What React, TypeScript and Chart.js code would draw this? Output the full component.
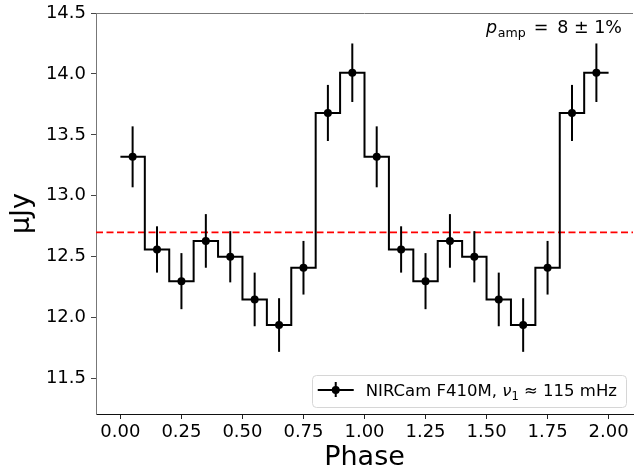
import React, { useEffect, useRef } from "react";
import { Chart, registerables } from "chart.js";

Chart.register(...registerables);

// ---- data ----
const phaseBins = [0.05, 0.15, 0.25, 0.35, 0.45, 0.55, 0.65, 0.75, 0.85, 0.95];
const fluxValues = [13.32, 12.56, 12.3, 12.63, 12.5, 12.15, 11.94, 12.41, 13.68, 14.01];
const fluxErrors = [0.25, 0.19, 0.23, 0.22, 0.21, 0.22, 0.22, 0.22, 0.23, 0.24];
const cycleOffsets = [0, 1];
const meanFlux = 12.7;
const xTicks = [0, 0.25, 0.5, 0.75, 1.0, 1.25, 1.5, 1.75, 2.0];
const yTicks = [11.5, 12.0, 12.5, 13.0, 13.5, 14.0, 14.5];
const xLimits = [-0.1, 2.1];
const yLimits = [11.21, 14.5];
const xTitle = "Phase";
const yTitle = "μJy";
const legendParts = ["NIRCam F410M, ", "ν", "1", " ≈ 115 mHz"];
const annotationParts = ["p", "amp", "=", "8 ± 1%"];

const FONT = "'DejaVu Sans', sans-serif";

const binWidth = phaseBins[1] - phaseBins[0];
const points = cycleOffsets.flatMap((c) =>
  phaseBins.map((p, i) => ({ x: +(p + c).toFixed(3), y: fluxValues[i], err: fluxErrors[i] }))
);
const stepData = points.map((p) => ({ x: +(p.x - binWidth / 2).toFixed(3), y: p.y }));
stepData.push({ x: +(points[points.length - 1].x + binWidth / 2).toFixed(3), y: points[points.length - 1].y });

const errorBarPlugin = {
  id: "errorBars",
  afterDatasetsDraw(chart: any) {
    const { ctx } = chart;
    const xs = chart.scales.x;
    const ys = chart.scales.y;
    ctx.save();
    ctx.strokeStyle = "#000";
    ctx.lineWidth = 2;
    points.forEach((p) => {
      const px = xs.getPixelForValue(p.x);
      ctx.beginPath();
      ctx.moveTo(px, ys.getPixelForValue(p.y - p.err));
      ctx.lineTo(px, ys.getPixelForValue(p.y + p.err));
      ctx.stroke();
    });
    ctx.restore();
  },
};

const decorPlugin = {
  id: "decor",
  afterDraw(chart: any) {
    const { ctx, chartArea } = chart;
    ctx.save();
    // top frame
    ctx.strokeStyle = "#777";
    ctx.lineWidth = 1;
    ctx.beginPath();
    ctx.moveTo(chartArea.left, Math.round(chartArea.top) + 0.5);
    ctx.lineTo(chartArea.right, Math.round(chartArea.top) + 0.5);
    ctx.stroke();

    // annotation p_amp = 8 ± 1%
    const fs = 17.5;
    const sub = fs * 0.72;
    ctx.fillStyle = "#000";
    ctx.textBaseline = "alphabetic";
    const baseY = chartArea.top + 20;
    let xr = chartArea.right - 11;
    ctx.font = `${fs}px ${FONT}`;
    ctx.textAlign = "right";
    ctx.fillText(annotationParts[3], xr, baseY);
    xr -= ctx.measureText(annotationParts[3]).width + 9;
    ctx.fillText(annotationParts[2], xr, baseY);
    xr -= ctx.measureText(annotationParts[2]).width + 8;
    ctx.font = `${sub}px ${FONT}`;
    ctx.fillText(annotationParts[1], xr, baseY + 3.5);
    xr -= ctx.measureText(annotationParts[1]).width + 0.5;
    ctx.font = `italic ${fs}px ${FONT}`;
    ctx.fillText(annotationParts[0], xr, baseY);

    // legend box
    const lfs = 16.5;
    ctx.textAlign = "left";
    ctx.font = `${lfs}px ${FONT}`;
    const w0 = ctx.measureText(legendParts[0]).width;
    ctx.font = `italic ${lfs}px ${FONT}`;
    const w1 = ctx.measureText(legendParts[1]).width;
    ctx.font = `${lfs * 0.7}px ${FONT}`;
    const w2 = ctx.measureText(legendParts[2]).width;
    ctx.font = `${lfs}px ${FONT}`;
    const w3 = ctx.measureText(legendParts[3]).width;
    const textW = w0 + w1 + w2 + w3;
    const boxR = chartArea.right - 7;
    const boxB = chartArea.bottom - 7;
    const boxH = 32;
    const boxW = 6 + 36 + 12 + textW + 9;
    const boxL = boxR - boxW;
    const boxT = boxB - boxH;
    ctx.beginPath();
    ctx.roundRect(Math.round(boxL) + 0.5, Math.round(boxT) + 0.5, Math.round(boxW), boxH, 4);
    ctx.fillStyle = "rgba(255,255,255,0.85)";
    ctx.fill();
    ctx.strokeStyle = "#d6d6d6";
    ctx.lineWidth = 1;
    ctx.stroke();
    // legend symbol
    const sy = boxT + 15;
    const sx0 = boxL + 6;
    const sx1 = sx0 + 36;
    const sxc = (sx0 + sx1) / 2;
    ctx.strokeStyle = "#000";
    ctx.lineWidth = 2;
    ctx.beginPath();
    ctx.moveTo(sx0, sy);
    ctx.lineTo(sx1, sy);
    ctx.moveTo(sxc, sy - 8);
    ctx.lineTo(sxc, sy + 7);
    ctx.stroke();
    ctx.fillStyle = "#000";
    ctx.beginPath();
    ctx.arc(sxc, sy, 4, 0, Math.PI * 2);
    ctx.fill();
    // legend text
    let tx = sx1 + 12;
    const ty = boxT + 21;
    ctx.fillStyle = "#000";
    ctx.font = `${lfs}px ${FONT}`;
    ctx.fillText(legendParts[0], tx, ty);
    tx += w0;
    ctx.font = `italic ${lfs}px ${FONT}`;
    ctx.fillText(legendParts[1], tx, ty);
    tx += w1;
    ctx.font = `${lfs * 0.7}px ${FONT}`;
    ctx.fillText(legendParts[2], tx, ty + 3.5);
    tx += w2;
    ctx.font = `${lfs}px ${FONT}`;
    ctx.fillText(legendParts[3], tx, ty);
    ctx.restore();
  },
};

export default function App() {
  const ref = useRef<HTMLCanvasElement | null>(null);
  useEffect(() => {
    if (!ref.current) return;
    const chart = new Chart(ref.current, {
      type: "scatter",
      data: {
        datasets: [
          {
            label: "points",
            data: points.map((p) => ({ x: p.x, y: p.y })),
            showLine: false,
            pointRadius: 4,
            pointBackgroundColor: "#000",
            pointBorderWidth: 0,
            pointHoverRadius: 4,
          },
          {
            label: "steps",
            data: stepData,
            showLine: true,
            stepped: true,
            borderColor: "#000",
            borderWidth: 2,
            pointRadius: 0,
            pointHoverRadius: 0,
            fill: false,
          },
          {
            label: "mean",
            data: [
              { x: xLimits[0], y: meanFlux },
              { x: xLimits[1], y: meanFlux },
            ],
            showLine: true,
            borderColor: "#ff0000",
            borderWidth: 1.8,
            borderDash: [7, 3.5],
            pointRadius: 0,
            pointHoverRadius: 0,
            fill: false,
          },
        ],
      },
      options: {
        animation: false,
        responsive: false,
        maintainAspectRatio: false,
        events: [],
        layout: { autoPadding: false, padding: { top: 13, right: 1, left: 0, bottom: 0 } },
        plugins: { legend: { display: false }, tooltip: { enabled: false } },
        scales: {
          x: {
            type: "linear",
            min: xLimits[0],
            max: xLimits[1],
            afterBuildTicks: (s: any) => {
              s.ticks = xTicks.map((v) => ({ value: v }));
            },
            afterFit: (s: any) => {
              s.height = 56;
              s.paddingLeft = 0;
              s.paddingRight = 0;
            },
            ticks: {
              autoSkip: false,
              maxRotation: 0,
              padding: 3,
              color: "#000",
              font: { family: FONT, size: 18 },
              callback: (v: any) => Number(v).toFixed(2),
            },
            grid: { display: true, drawOnChartArea: false, drawTicks: true, tickLength: 5, tickColor: "#222", lineWidth: 1 },
            border: { display: true, color: "#111", width: 1 },
            title: { display: true, text: xTitle, color: "#000", font: { family: FONT, size: 27 }, padding: { top: 0, bottom: -4 } },
          },
          y: {
            type: "linear",
            min: yLimits[0],
            max: yLimits[1],
            afterBuildTicks: (s: any) => {
              s.ticks = yTicks.map((v) => ({ value: v }));
            },
            afterFit: (s: any) => {
              s.width = 96;
              s.paddingTop = 0;
              s.paddingBottom = 0;
            },
            ticks: {
              padding: 5,
              color: "#000",
              font: { family: FONT, size: 18 },
              callback: (v: any) => Number(v).toFixed(1),
            },
            grid: { display: true, drawOnChartArea: false, drawTicks: true, tickLength: 5, tickColor: "#444", lineWidth: 1 },
            border: { display: true, color: "#777", width: 1 },
            title: { display: true, text: yTitle, color: "#000", font: { family: FONT, size: 27 }, padding: { top: 6, bottom: 0 } },
          },
        },
      },
      plugins: [errorBarPlugin, decorPlugin],
    } as any);
    return () => chart.destroy();
  }, []);
  return (
    <div style={{ position: "fixed", left: 0, top: 0, width: 634, height: 470, background: "#fff" }}>
      <canvas ref={ref} width={634} height={470} style={{ display: "block", width: 634, height: 470 }} />
    </div>
  );
}
